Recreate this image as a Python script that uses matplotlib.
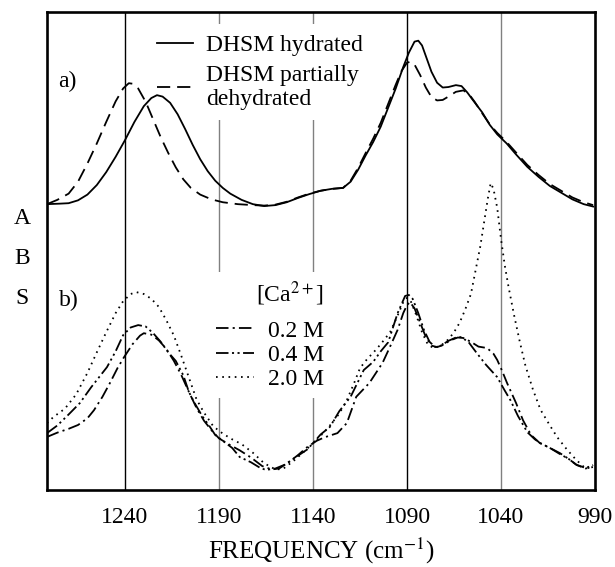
import matplotlib
matplotlib.use('Agg')

import matplotlib.pyplot as plt
import numpy as np

plt.rcParams['font.family'] = ['Liberation Serif', 'DejaVu Serif']
plt.rcParams['mathtext.fontset'] = 'stix'
plt.rcParams['lines.scale_dashes'] = False

# ---- panel a) : DHSM hydrated / partially dehydrated ----
a_hyd_f = [1281.5, 1275, 1270, 1265, 1260, 1255, 1250, 1245, 1240, 1235, 1230, 1226, 1223,
           1220, 1216, 1212, 1208, 1204, 1200, 1196, 1192, 1188, 1184, 1178, 1172, 1166,
           1160, 1154, 1148, 1142, 1136, 1130, 1124, 1120, 1116, 1112, 1108, 1104, 1100,
           1096, 1092, 1089, 1086, 1084, 1082, 1080, 1077, 1074, 1071, 1068, 1064, 1061,
           1058, 1055, 1050, 1046, 1042, 1037, 1032, 1026, 1020, 1014, 1008, 1002, 996, 991]
a_hyd_y = [59.8, 59.9, 60.0, 60.6, 61.8, 63.8, 66.5, 69.7, 73.2, 77.0, 80.3, 82.0, 82.6,
           82.3, 81.0, 78.6, 75.5, 72.2, 69.2, 66.7, 64.7, 63.2, 62.0, 60.7, 59.8, 59.4,
           59.6, 60.2, 61.1, 61.9, 62.6, 63.0, 63.2, 64.5, 67.0, 70.0, 72.8, 76.0, 80.0,
           84.0, 88.5, 91.5, 93.8, 94.0, 93.0, 90.8, 87.5, 85.2, 84.2, 84.3, 84.7, 84.5,
           83.2, 81.6, 79.0, 76.4, 74.4, 72.5, 70.2, 67.6, 65.5, 63.6, 62.2, 60.8, 59.8, 59.3]

a_deh_f = [1281.5, 1276, 1270, 1265, 1260, 1255, 1250, 1245, 1241, 1238, 1236, 1233, 1229,
           1225, 1221, 1217, 1213, 1209, 1205, 1200, 1194, 1188, 1180, 1172, 1166, 1160,
           1154, 1148, 1142, 1136, 1130, 1124, 1120, 1116, 1112, 1108, 1104, 1100, 1096,
           1093, 1090, 1088, 1086, 1083, 1080, 1077, 1074, 1071, 1068, 1064, 1060, 1057,
           1054, 1050, 1046, 1042, 1037, 1032, 1026, 1020, 1014, 1008, 1002, 996, 991]
a_deh_y = [59.8, 60.7, 62.0, 64.5, 68.3, 72.5, 77.0, 81.3, 84.0, 85.1, 85.0, 84.0, 81.2,
           77.5, 73.8, 70.5, 67.5, 65.0, 63.2, 61.8, 60.8, 60.2, 59.8, 59.6, 59.5, 59.7,
           60.3, 61.2, 62.0, 62.6, 63.0, 63.2, 64.7, 67.4, 70.5, 73.5, 76.8, 80.8, 84.8,
           87.6, 89.4, 89.6, 89.0, 86.8, 84.2, 82.2, 81.5, 81.6, 82.3, 83.3, 83.6, 82.8,
           81.2, 78.8, 76.5, 74.7, 72.8, 70.6, 68.0, 65.9, 64.0, 62.6, 61.2, 60.2, 59.6]

# ---- panel b) : [Ca2+] series ----
b02_f = [1281.5, 1276, 1270, 1265, 1260, 1256.5, 1252, 1248, 1244, 1240.5, 1236, 1232,
         1230, 1226, 1222, 1218, 1214, 1210, 1206, 1202, 1198, 1194, 1190, 1185, 1179,
         1173, 1167, 1162, 1158, 1153, 1148, 1143, 1138, 1134, 1127, 1122, 1117, 1110,
         1103, 1099, 1095, 1092, 1090, 1088.4, 1086, 1083, 1080, 1077, 1074, 1071, 1067,
         1063, 1060, 1056, 1052, 1047.4, 1044, 1042, 1039.5, 1036.8, 1032, 1028.3, 1024,
         1019.3, 1014, 1008.6, 1004, 999.6, 995, 991.1]
b02_y = [11.1, 12.0, 12.8, 13.6, 15.0, 16.7, 19.5, 22.4, 25.5, 27.8, 30.5, 32.3,
         32.8, 32.5, 31.3, 29.5, 27.0, 24.0, 20.5, 17.2, 14.5, 12.5, 10.8, 9.6, 8.3,
         6.8, 5.0, 4.3, 4.5, 5.8, 7.3, 9.0, 10.3, 11.0, 11.9, 14.0, 19.5, 22.4,
         26.6, 30.0, 33.5, 37.0, 38.7, 39.3, 38.0, 35.0, 32.0, 30.2, 29.9, 30.3, 31.3,
         31.9, 31.8, 31.0, 30.0, 29.7, 28.5, 27.2, 25.0, 22.4, 18.2, 14.6, 11.5,
         9.8, 8.8, 7.7, 6.5, 5.2, 4.5, 4.8]

b04_f = [1281.5, 1276, 1270, 1264, 1258, 1249.6, 1245, 1241, 1237, 1233, 1229, 1225,
         1221, 1217, 1213, 1209, 1206, 1203, 1199, 1195, 1192, 1188, 1183, 1179, 1173,
         1168, 1165, 1160, 1155, 1149, 1143, 1140, 1136, 1131, 1126, 1120, 1113, 1108,
         1104, 1100, 1095, 1091, 1089, 1087, 1084, 1081, 1078, 1075, 1072, 1068, 1064,
         1061, 1057, 1053, 1048, 1042, 1038, 1035, 1031, 1026, 1022, 1019, 1014, 1009,
         1004, 1000, 995, 991]
b04_y = [11.9, 13.5, 15.8, 18.2, 21.5, 25.7, 29.0, 32.4, 34.0, 34.5, 34.2, 32.8,
         31.0, 28.8, 27.0, 24.0, 20.5, 18.2, 15.5, 13.3, 11.5, 10.3, 8.8, 6.9, 5.8,
         4.6, 4.2, 4.5, 5.3, 6.9, 8.5, 9.8, 11.6, 13.2, 16.5, 19.5, 25.1, 26.8,
         29.0, 30.9, 37.0, 40.6, 40.8, 40.0, 37.0, 33.5, 31.0, 29.9, 30.2, 31.2, 31.9,
         32.0, 30.8, 28.7, 26.2, 23.6, 20.8, 18.8, 15.5, 12.1, 10.6, 9.8, 8.8, 7.6,
         6.5, 5.3, 4.6, 5.2]

b20_f = [1281.5, 1278, 1272, 1266, 1260, 1255, 1250, 1245, 1241, 1237, 1234, 1230,
         1226, 1222, 1218, 1214, 1210, 1206, 1202, 1198, 1193, 1188, 1183, 1178, 1172,
         1166, 1160, 1156, 1150, 1144, 1138, 1132, 1126, 1122, 1118, 1115, 1111, 1108,
         1104, 1099, 1095, 1092, 1090, 1088, 1085, 1082, 1079, 1076, 1072, 1068, 1065,
         1062, 1059, 1056, 1053, 1051, 1049, 1047, 1045.5, 1044, 1042, 1040, 1038, 1036,
         1033, 1030, 1027, 1023, 1019, 1014, 1010, 1005, 1000, 995, 991]
b20_y = [14.0, 15.3, 17.0, 20.0, 24.5, 28.8, 33.0, 37.0, 39.5, 41.0, 41.4, 41.0,
         40.0, 38.3, 35.5, 32.3, 28.0, 23.5, 19.0, 16.2, 13.3, 11.8, 10.6, 9.6, 7.8,
         5.6, 4.3, 4.4, 6.2, 8.3, 10.5, 13.0, 16.0, 18.8, 22.5, 25.5, 27.5, 28.7,
         30.5, 33.0, 36.5, 39.3, 40.2, 39.5, 36.5, 33.0, 30.5, 29.7, 30.2, 31.5, 33.0,
         35.0, 37.8, 41.0, 47.0, 51.0, 56.0, 61.0, 64.2, 63.0, 59.0, 52.5, 47.0, 42.5,
         36.5, 31.0, 26.0, 21.0, 16.8, 13.5, 11.0, 8.5, 6.3, 4.5, 4.8]

ref_lines = [1240, 1190, 1140, 1090, 1040]
ref_colors = ['black', '#808080', '#808080', 'black', '#808080']
xticks = [1240, 1190, 1140, 1090, 1040, 990]

fig = plt.figure(figsize=(6.15, 5.67), dpi=100)
ax = fig.add_axes([47/615, 1 - 490/567, 548/615, 478/567])

for f, c in zip(ref_lines, ref_colors):
	ax.axvline(f, color=c, lw=1.0, zorder=1)

lw = 1.3
l1, = ax.plot(a_hyd_f, a_hyd_y, color='black', lw=lw, zorder=6, label='DHSM hydrated')
l2, = ax.plot(a_deh_f, a_deh_y, color='black', lw=lw, zorder=6, dashes=(9.5, 5),
	label='DHSM partially\ndehydrated')

l3, = ax.plot(b02_f, b02_y, color='black', lw=lw, zorder=6, dashes=(9, 3, 1.5, 3), label='0.2 M')
l4, = ax.plot(b04_f, b04_y, color='black', lw=lw, zorder=6, dashes=(9, 2.5, 1.5, 2.5, 1.5, 2.5), label='0.4 M')
l5, = ax.plot(b20_f, b20_y, color='black', lw=lw, zorder=6, dashes=(1.2, 3.3), label='2.0 M')

# legends are drawn on white boxes so they break the reference lines behind them
leg_a = ax.legend(handles=[l1, l2], loc='upper left', bbox_to_anchor=(0.181, 0.975),
	fontsize=17, frameon=True, fancybox=False, edgecolor='none', facecolor='white',
	framealpha=1, handlelength=1.55, handletextpad=0.55, labelspacing=0.36,
	borderpad=0.45, borderaxespad=0)
ax.add_artist(leg_a)

leg_b = ax.legend(handles=[l3, l4, l5], loc='upper left', bbox_to_anchor=(0.295, 0.456),
	title='[Ca$^{2+}$]', title_fontsize=17, alignment='right',
	fontsize=17, frameon=True, fancybox=False, edgecolor='none', facecolor='white',
	framealpha=1, handlelength=1.6, handletextpad=0.6, labelspacing=0.12,
	borderpad=0.3, borderaxespad=0)
leg_b._legend_box.sep = 9

ax.text(0.02, 0.855, 'a)', transform=ax.transAxes, fontsize=17, va='center')
ax.text(0.022, 0.397, 'b)', transform=ax.transAxes, fontsize=17, va='center')

for i, ch in enumerate('ABS'):
	fig.text(22/615, 1 - (218 + 40*i)/567, ch, fontsize=17, ha='center', va='center')

ax.set_xlim(1281.5, 990)
ax.set_ylim(0, 100)
ax.set_xticks(xticks)
ax.set_xticklabels([str(t) for t in xticks])
ax.set_yticks([])
ax.tick_params(axis='x', length=0, pad=12, labelsize=17)
ax.set_xlabel('FREQUENCY (cm$^{-1}$)', fontsize=18, labelpad=6)
for s in ax.spines.values():
	s.set_linewidth(1.9)

plt.savefig('out.png', dpi=100)
